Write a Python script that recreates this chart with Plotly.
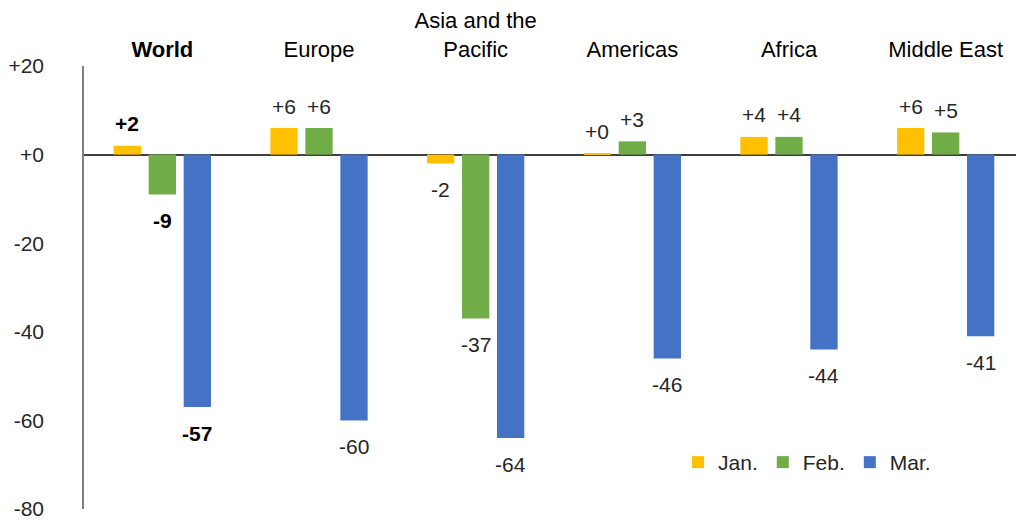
import plotly.graph_objects as go

regions = ["World", "Europe", "Asia and the Pacific", "Americas", "Africa", "Middle East"]
region_labels = ["<b>World</b>", "Europe", "Asia and the<br>Pacific", "Americas", "Africa", "Middle East"]
jan = [2, 6, -2, 0.3, 4, 6]
feb = [-9, 6, -37, 3, 4, 5]
mar = [-57, -60, -64, -46, -44, -41]
series_names = ["Jan.", "Feb.", "Mar."]
series_values = [jan, feb, mar]
colors = ["#FFC000", "#70AD47", "#4472C4"]
y_ticks = [20, 0, -20, -40, -60, -80]
y_tick_text = [f"{v:+d}" for v in y_ticks]

FONT = "Liberation Sans, Arial, sans-serif"
BARGAP = 0.33

fig = go.Figure()
for name, vals, col in zip(series_names, series_values, colors):
    fig.add_trace(go.Bar(name=name, x=regions, y=vals, marker_color=col,
                         marker_line_width=0))

# data labels
slot = (1 - BARGAP) / len(series_values)
annotations = []
for si, vals in enumerate(series_values):
    off = (si - (len(series_values) - 1) / 2) * slot
    for ci, v in enumerate(vals):
        txt = f"{v:+.0f}"
        if ci == 0:
            txt = f"<b>{txt}</b>"
        annotations.append(dict(
            x=ci + off, y=v, xref="x", yref="y", text=txt, showarrow=False,
            yshift=22 if v >= 0 else -26, yanchor="middle", xanchor="center",
            font=dict(family=FONT, size=21, color="#000000" if ci == 0 else "#262626")))

fig.update_layout(
    width=1016, height=512,
    margin=dict(l=76, r=0, t=58, b=11),
    paper_bgcolor="white", plot_bgcolor="white",
    barmode="group", bargap=BARGAP, bargroupgap=0.22,
    font=dict(family=FONT, size=21, color="#262626"),
    showlegend=True,
    legend=dict(orientation="h", x=0.632, y=0.105, xanchor="left", yanchor="middle",
                font=dict(family=FONT, size=21, color="#262626"),
                bgcolor="rgba(0,0,0,0)", itemwidth=30, traceorder="normal"),
    annotations=annotations,
)
fig.update_xaxes(side="top", tickvals=regions, ticktext=region_labels,
                 showline=False, ticks="", showgrid=False, automargin=False,
                 ticklabelstandoff=4,
                 tickfont=dict(family=FONT, size=22, color="#000000"))
fig.update_yaxes(range=[-80, 20], tickvals=y_ticks, ticktext=y_tick_text,
                 showgrid=False, showline=True, linecolor="#7f7f7f", linewidth=1.5,
                 zeroline=True, zerolinecolor="#404040", zerolinewidth=1.5,
                 ticks="", ticklabelstandoff=34, automargin=False,
                 ticklabeloverflow="allow",
                 tickfont=dict(family=FONT, size=21, color="#262626"))

fig.write_html("out.html")
